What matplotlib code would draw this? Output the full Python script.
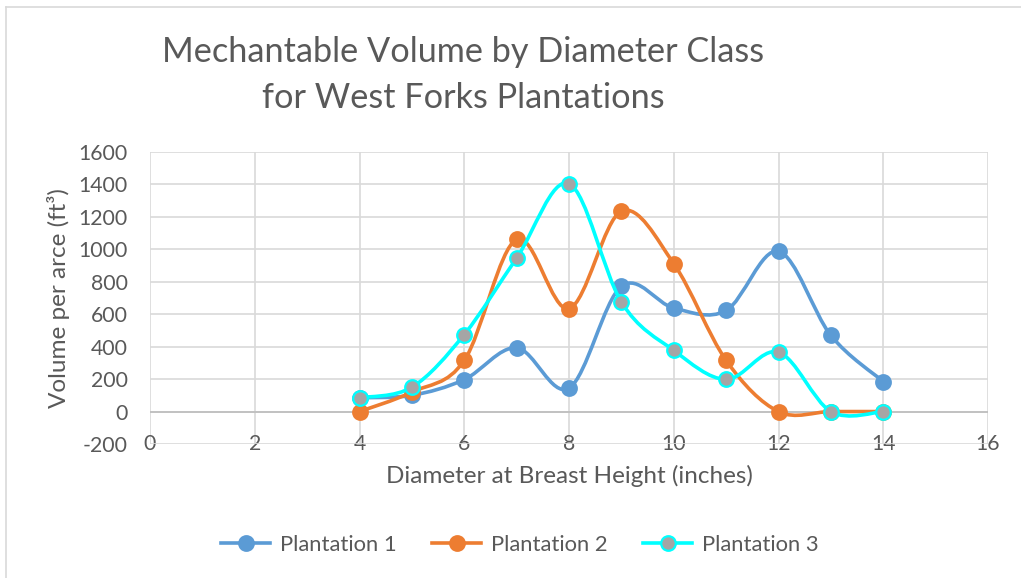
import numpy as np
import matplotlib.pyplot as plt
from matplotlib.path import Path
from matplotlib.patches import PathPatch
from matplotlib.lines import Line2D

plt.rcParams['font.family'] = ['Lato', 'DejaVu Sans']
plt.rcParams['axes.unicode_minus'] = False

# diameter classes (inches)
diameters = [4, 5, 6, 7, 8, 9, 10, 11, 12, 13, 14]

# volume per acre (ft3)
plantation_1 = [85, 100, 197, 393, 144, 772, 638, 623, 988, 469, 185]
plantation_2 = [0, 120, 315, 1062, 634, 1235, 912, 315, 0, 0, 0]
plantation_3 = [85, 150, 475, 946, 1405, 675, 377, 198, 366, 0, 0]

series_names = ['Plantation 1', 'Plantation 2', 'Plantation 3']
line_colors = ['#5B9BD5', '#ED7D31', '#00FFFF']
face_colors = ['#5B9BD5', '#ED7D31', '#A5A5A5']

TEXT = '#595959'
GRID = '#D9D9D9'


def smooth_path(xs, ys):
    # Excel style smoothed line: cubic bezier through every point
    pts = np.column_stack([xs, ys]).astype(float)
    n = len(pts)
    verts = [pts[0]]
    codes = [Path.MOVETO]
    for i in range(n - 1):
        p0 = pts[max(i - 1, 0)]
        p1 = pts[i]
        p2 = pts[i + 1]
        p3 = pts[min(i + 2, n - 1)]
        c1 = p1 + (p2 - p0) / 6.0
        c2 = p2 - (p3 - p1) / 6.0
        verts += [c1, c2, p2]
        codes += [Path.CURVE4] * 3
    return Path(verts, codes)


fig = plt.figure(figsize=(10.21, 5.78), dpi=100)
ax = fig.add_axes([150 / 1021, 1 - 444 / 578, 838 / 1021, 292 / 578])

# chart outline (left / top edges visible)
fig.add_artist(Line2D([6 / 1021, 6 / 1021], [0, 1 - 7 / 578], color=GRID, lw=1.2,
                      transform=fig.transFigure))
fig.add_artist(Line2D([6 / 1021, 1], [1 - 7 / 578, 1 - 7 / 578], color=GRID, lw=1.2,
                      transform=fig.transFigure))

ax.set_xlim(0, 16)
ax.set_ylim(-200, 1600)
ax.set_xticks(np.arange(0, 17, 2))
ax.set_yticks(np.arange(-200, 1601, 200))
ax.grid(True, color=GRID, lw=1.2)
ax.set_axisbelow(True)
ax.axhline(0, color='#BFBFBF', lw=1.3, zorder=1)
for s in ax.spines.values():
    s.set_visible(False)
ax.tick_params(length=0, colors=TEXT, labelsize=15.3)
ax.tick_params(axis='y', pad=16)
ax.tick_params(axis='x', pad=0)
for lab in ax.get_xticklabels():
    lab.set_va('center')

all_series = [plantation_1, plantation_2, plantation_3]
handles = []
for k, (vals, name) in enumerate(zip(all_series, series_names)):
    patch = PathPatch(smooth_path(diameters, vals), fill=False,
                      edgecolor=line_colors[k], lw=2.6, zorder=3 + 2 * k,
                      capstyle='round', joinstyle='round')
    ax.add_patch(patch)
    ax.plot(diameters, vals, 'o', ms=10.5, mfc=face_colors[k],
            mec=line_colors[k], mew=1.6, zorder=4 + 2 * k, clip_on=False)
    handles.append(Line2D([0], [0], color=line_colors[k], lw=2.6, marker='o',
                          ms=10.5, mfc=face_colors[k], mec=line_colors[k], mew=1.6))

ax.set_ylabel('Volume per arce (ft³)', fontsize=17.5, color=TEXT, labelpad=6)
ax.set_xlabel('Diameter at Breast Height (inches)', fontsize=17.5, color=TEXT, labelpad=8)

fig.text(463 / 1021, 1 - 75 / 578, 'Mechantable Volume by Diameter Class\nfor West Forks Plantations',
         ha='center', va='center', fontsize=24.7, color=TEXT, linespacing=1.5)

fig.legend(handles, series_names, loc='center', bbox_to_anchor=(520 / 1021, 1 - 545 / 578),
           ncol=3, frameon=False, fontsize=15.8, labelcolor=TEXT, handlelength=2.25,
           handletextpad=0.45, columnspacing=1.6)

fig.savefig('out.png', dpi=100, facecolor='white')
